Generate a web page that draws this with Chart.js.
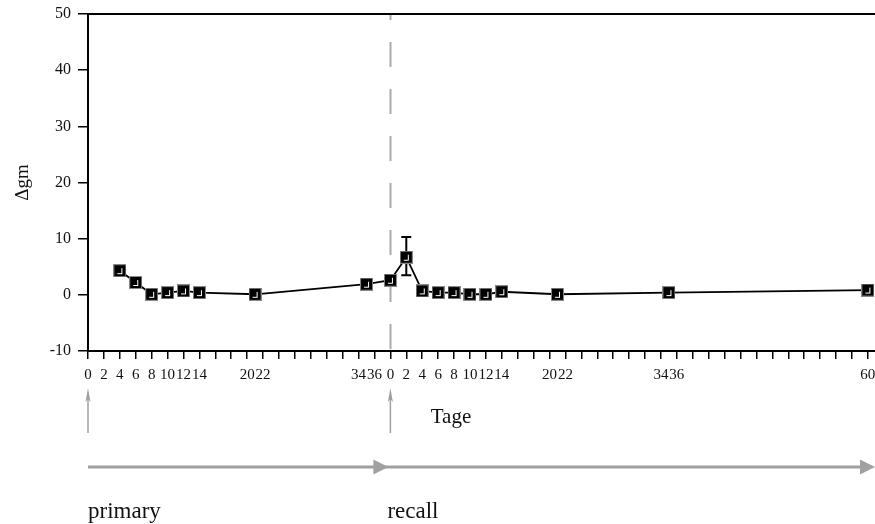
<!DOCTYPE html>
<html><head><meta charset="utf-8">
<script src="https://cdn.jsdelivr.net/npm/chart.js@4/dist/chart.umd.min.js"></script>
<style>html,body{margin:0;padding:0;background:#fff}#wrap{width:875px;height:524px;position:relative}</style>
</head><body><div id="wrap"><canvas id="c" width="875" height="524"></canvas></div>
<script>
// ---- data ----
const primaryDays = [4, 6, 8, 10, 12, 14, 21, 35];
const primaryValues = [4.3, 2.2, 0.1, 0.4, 0.7, 0.4, 0.1, 1.9];
const recallDays = [0, 2, 4, 6, 8, 10, 12, 14, 21, 35, 60];
const recallValues = [2.6, 6.7, 0.7, 0.4, 0.4, 0.1, 0.1, 0.55, 0.1, 0.4, 0.85];
const recallErrUp = [0, 3.6, 0, 0, 0, 0, 0, 0, 0, 0, 0];
const recallErrDown = [0, 3.2, 0, 0, 0, 0, 0, 0, 0, 0, 0];
const primaryLength = 38;   // recall day 0 sits at primary day 38
const recallLength = 60;
const primaryTickLabels = [0, 2, 4, 6, 8, 10, 12, 14, 20, 22, 34, 36];
const recallTickLabels = [0, 2, 4, 6, 8, 10, 12, 14, 20, 22, 34, 36, 60];
const yTicks = [-10, 0, 10, 20, 30, 40, 50];
const yTitle = 'Δgm';
const xTitle = 'Tage';
const phaseLabels = ['primary', 'recall'];

// ---- marker ----
function makeMarker() {
  const c = document.createElement('canvas');
  c.width = 13; c.height = 13;
  const g = c.getContext('2d');
  g.fillStyle = '#888'; g.fillRect(0, 0, 13, 13);
  g.fillStyle = '#000'; g.fillRect(1, 1, 11, 11);
  g.fillStyle = '#fff';
  g.fillRect(8, 4, 1, 6);
  g.fillRect(4, 9, 5, 1);
  return c;
}
const marker = makeMarker();

const points = primaryDays.map((d, i) => ({x: d, y: primaryValues[i]}))
  .concat(recallDays.map((d, i) => ({x: d + primaryLength, y: recallValues[i]})));

const FONT = 'Liberation Serif';
Chart.defaults.font.family = FONT;
Chart.defaults.color = '#111';

const decor = {
  id: 'decor',
  beforeDatasetsDraw(chart) {
    const {ctx, chartArea: a, scales: {x, y}} = chart;
    // dashed separator at recall day 0
    const xs = Math.round(x.getPixelForValue(primaryLength)) + 0.5;
    ctx.save();
    ctx.strokeStyle = '#aaa'; ctx.lineWidth = 2;
    ctx.setLineDash([25, 22]); ctx.lineDashOffset = 19;
    ctx.beginPath(); ctx.moveTo(xs, a.top); ctx.lineTo(xs, a.bottom); ctx.stroke();
    ctx.restore();
    // error bars
    ctx.save();
    ctx.strokeStyle = '#000'; ctx.lineWidth = 2;
    recallDays.forEach((d, i) => {
      if (!recallErrUp[i] && !recallErrDown[i]) return;
      const px = x.getPixelForValue(d + primaryLength);
      const top = y.getPixelForValue(recallValues[i] + recallErrUp[i]);
      const bot = y.getPixelForValue(recallValues[i] - recallErrDown[i]);
      ctx.beginPath();
      ctx.moveTo(px, top); ctx.lineTo(px, bot);
      ctx.moveTo(px - 5, top); ctx.lineTo(px + 5, top);
      ctx.moveTo(px - 5, bot); ctx.lineTo(px + 5, bot);
      ctx.stroke();
    });
    ctx.restore();
  },
  afterDraw(chart) {
    const {ctx, chartArea: a, scales: {x}} = chart;
    ctx.save();
    // top border
    ctx.strokeStyle = '#000'; ctx.lineWidth = 2;
    ctx.beginPath(); ctx.moveTo(a.left, a.top); ctx.lineTo(a.right, a.top); ctx.stroke();
    const x0 = x.getPixelForValue(0);
    const x1 = x.getPixelForValue(primaryLength);
    const x2 = a.right;
    const gray = '#a0a0a0';
    // up arrows
    ctx.strokeStyle = gray; ctx.fillStyle = gray; ctx.lineWidth = 1.5;
    [x0, x1].forEach(px => {
      ctx.beginPath(); ctx.moveTo(px, 433); ctx.lineTo(px, 396); ctx.stroke();
      ctx.beginPath(); ctx.moveTo(px, 388); ctx.lineTo(px - 2.5, 402); ctx.lineTo(px, 399); ctx.lineTo(px + 2.5, 402); ctx.closePath(); ctx.fill();
    });
    // horizontal phase arrows
    const hy = 467;
    ctx.lineWidth = 3;
    ctx.beginPath(); ctx.moveTo(x0, hy); ctx.lineTo(x2 - 10, hy); ctx.stroke();
    [x1 - 2, x2].forEach(tip => {
      ctx.beginPath(); ctx.moveTo(tip, hy); ctx.lineTo(tip - 15, hy - 7.5); ctx.lineTo(tip - 15, hy + 7.5); ctx.closePath(); ctx.fill();
    });
    // texts
    ctx.fillStyle = '#111';
    ctx.textBaseline = 'alphabetic';
    ctx.font = '21px "' + FONT + '"';
    ctx.textAlign = 'center';
    ctx.fillText(xTitle, 451, 423);
    ctx.font = '23px "' + FONT + '"';
    ctx.textAlign = 'left';
    ctx.fillText(phaseLabels[0], x0, 518);
    ctx.fillText(phaseLabels[1], x1 - 3, 518);
    ctx.restore();
  }
};

new Chart(document.getElementById('c'), {
  type: 'line',
  data: {
    datasets: [{
      data: points,
      borderColor: '#000',
      borderWidth: 1.8,
      pointStyle: marker,
      pointRadius: 6,
      pointHoverRadius: 6,
      tension: 0,
      fill: false,
      clip: false
    }]
  },
  options: {
    responsive: false,
    animation: false,
    devicePixelRatio: 1,
    layout: {autoPadding: false, padding: {top: 14, left: 0, right: 0, bottom: 0}},
    plugins: {legend: {display: false}, tooltip: {enabled: false}},
    scales: {
      x: {
        type: 'linear',
        min: 0,
        max: primaryLength + recallLength + 0.9,
        afterBuildTicks(s) {
          const t = [];
          for (let v = 0; v <= primaryLength + recallLength; v += 2) t.push({value: v});
          s.ticks = t;
        },
        afterFit(s) { s.height = 524 - 351; s.paddingLeft = 0; s.paddingRight = 0; },
        ticks: {
          autoSkip: false, maxRotation: 0, minRotation: 0, padding: 7,
          font: {size: 15}, color: '#111',
          callback(v) {
            if (v < primaryLength) return primaryTickLabels.includes(v) ? String(v) : '';
            const r = v - primaryLength;
            return recallTickLabels.includes(r) ? String(r) : '';
          }
        },
        grid: {display: true, drawOnChartArea: false, drawTicks: true, tickLength: 8, color: '#000', lineWidth: 1.5},
        border: {display: true, color: '#000', width: 2}
      },
      y: {
        min: -10, max: 50,
        afterBuildTicks(s) { s.ticks = yTicks.map(v => ({value: v})); },
        afterFit(s) { s.width = 88; s.paddingTop = 0; s.paddingBottom = 0; },
        ticks: {padding: 7, font: {size: 16}, color: '#111'},
        grid: {display: true, drawOnChartArea: false, drawTicks: true, tickLength: 10, color: '#000', lineWidth: 1.5},
        border: {display: true, color: '#000', width: 2},
        title: {display: true, text: yTitle, font: {size: 19}, color: '#111', padding: {top: 12, bottom: 0}}
      }
    }
  },
  plugins: [decor]
});
</script>
</body></html>
